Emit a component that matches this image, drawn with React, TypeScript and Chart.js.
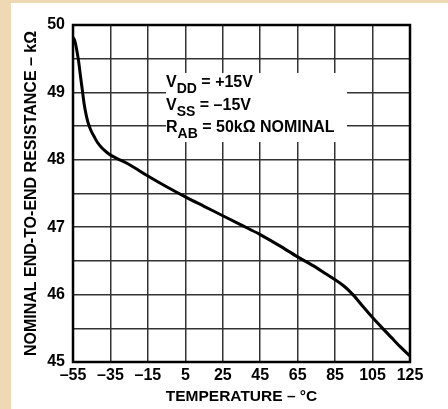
import React, { useEffect, useRef } from 'react';
import { Chart, registerables } from 'chart.js';

Chart.register(...registerables);

// ---- data ----
const temperatures = [-55, -54, -53, -52, -51, -50, -49, -48, -47, -46, -45, -44, -42, -40, -38, -36, -34, -30, -25, -15, -5, 5, 15, 25, 35, 45, 55, 65, 75, 80, 85, 90, 95, 100, 105, 110, 115, 120, 125];
const resistances = [49.82, 49.76, 49.63, 49.46, 49.24, 49.03, 48.82, 48.67, 48.555, 48.475, 48.41, 48.36, 48.26, 48.19, 48.135, 48.09, 48.055, 48.0, 47.93, 47.76, 47.6, 47.45, 47.31, 47.17, 47.03, 46.89, 46.73, 46.56, 46.4, 46.31, 46.22, 46.12, 45.985, 45.82, 45.66, 45.51, 45.365, 45.22, 45.09];
const xTickValues = [-55, -35, -15, 5, 25, 45, 65, 85, 105, 125];
const yMin = 45;
const yMax = 50;
const yStep = 0.5;
const xTitle = 'TEMPERATURE – °C';
const yTitle = 'NOMINAL END-TO-END RESISTANCE – kΩ';
const annotationMain = ['V', 'V', 'R'];
const annotationSub = ['DD', 'SS', 'AB'];
const annotationRest = [' = +15V', ' = –15V', ' = 50kΩ NOMINAL'];

const FONT = '"Liberation Sans", Arial, Helvetica, sans-serif';

const overlayPlugin = {
  id: 'overlay',
  beforeDatasetsDraw(chart: any) {
    const { ctx, chartArea: a } = chart;
    ctx.save();
    ctx.fillStyle = '#ffffff';
    ctx.fillRect(a.left + 93, a.top + 48, 181, 69);
    ctx.fillStyle = '#000000';
    ctx.textBaseline = 'alphabetic';
    ctx.textAlign = 'left';
    const baselines = [62, 85, 107];
    for (let i = 0; i < annotationMain.length; i++) {
      let x = a.left + 93;
      const y = a.top + baselines[i];
      ctx.font = `bold 16px ${FONT}`;
      ctx.fillText(annotationMain[i], x, y);
      x += ctx.measureText(annotationMain[i]).width;
      ctx.font = `bold 14px ${FONT}`;
      ctx.fillText(annotationSub[i], x, y + 6);
      x += ctx.measureText(annotationSub[i]).width;
      ctx.font = `bold 16px ${FONT}`;
      ctx.fillText(annotationRest[i], x, y);
    }
    ctx.restore();
  },
  afterDraw(chart: any) {
    const { ctx, chartArea: a } = chart;
    ctx.save();
    ctx.strokeStyle = '#000000';
    ctx.lineWidth = 2.5;
    ctx.strokeRect(a.left, a.top, a.right - a.left, a.bottom - a.top);
    ctx.fillStyle = '#000000';
    ctx.textAlign = 'center';
    ctx.textBaseline = 'middle';
    ctx.font = `bold 15.5px ${FONT}`;
    ctx.fillText(xTitle, (a.left + a.right) / 2, a.bottom + 35);
    ctx.translate(32, (a.top + a.bottom) / 2);
    ctx.rotate(-Math.PI / 2);
    ctx.font = `bold 16px ${FONT}`;
    ctx.fillText(yTitle, 0, 0);
    ctx.restore();
  },
};

export default function App() {
  const canvasRef = useRef<HTMLCanvasElement | null>(null);

  useEffect(() => {
    document.body.style.margin = '0';
    const canvas = canvasRef.current;
    if (!canvas) return;
    const chart = new Chart(canvas, {
      type: 'line',
      data: {
        datasets: [
          {
            data: temperatures.map((t, i) => ({ x: t, y: resistances[i] })),
            borderColor: '#000000',
            borderWidth: 3,
            pointRadius: 0,
            fill: false,
            cubicInterpolationMode: 'monotone',
          },
        ],
      },
      options: {
        responsive: false,
        animation: false,
        devicePixelRatio: 1,
        layout: { padding: { top: 25, right: 38, left: 0, bottom: 0 } },
        plugins: { legend: { display: false }, tooltip: { enabled: false } },
        scales: {
          x: {
            type: 'linear',
            min: -55,
            max: 125,
            afterBuildTicks: (scale: any) => {
              scale.ticks = xTickValues.map((v) => ({ value: v }));
            },
            afterFit: (scale: any) => {
              scale.height = 47;
            },
            grid: { color: '#333333', lineWidth: 1.5, drawTicks: false },
            border: { display: false },
            ticks: {
              autoSkip: false,
              maxRotation: 0,
              padding: 4,
              color: '#000000',
              font: { family: FONT, size: 16, weight: 'bold' },
              callback: (v: any) => (Number(v) < 0 ? '–' + Math.abs(Number(v)) : String(v)),
            },
          },
          y: {
            type: 'linear',
            min: yMin,
            max: yMax,
            afterFit: (scale: any) => {
              scale.width = 73;
            },
            grid: { color: '#333333', lineWidth: 1.5, drawTicks: false },
            border: { display: false },
            ticks: {
              stepSize: yStep,
              autoSkip: false,
              padding: 8,
              color: '#000000',
              font: { family: FONT, size: 16, weight: 'bold' },
              callback: (v: any) => (Number.isInteger(Number(v)) ? String(v) : ''),
            },
          },
        },
      },
      plugins: [overlayPlugin],
    } as any);
    return () => chart.destroy();
  }, []);

  return (
    <div style={{ position: 'relative', width: 448, height: 409, background: '#efd8b4', overflow: 'hidden' }}>
      <div style={{ position: 'absolute', left: 11, top: 3, right: 0, bottom: 0, background: '#ffffff' }} />
      <canvas
        ref={canvasRef}
        width={448}
        height={409}
        style={{ position: 'absolute', left: 0, top: 0, width: 448, height: 409 }}
      />
    </div>
  );
}
